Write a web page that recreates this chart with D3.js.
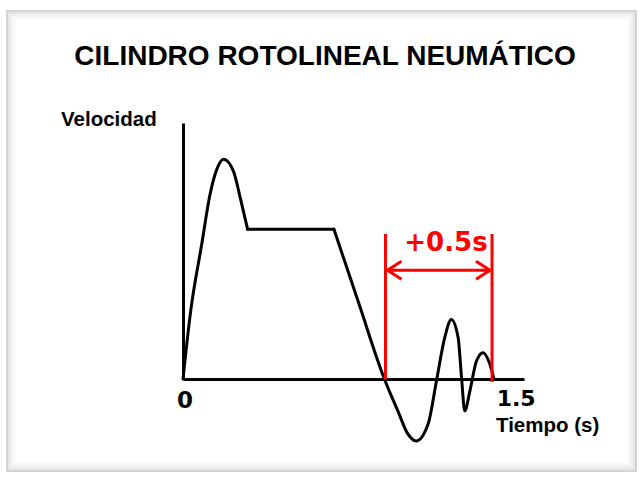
<!DOCTYPE html>
<html>
<head>
<meta charset="utf-8">
<script src="https://cdn.jsdelivr.net/npm/d3@7"></script>
<style>
  html, body { margin: 0; padding: 0; background: #ffffff; }
  svg { display: block; }
</style>
</head>
<body>
<svg id="chart" width="642" height="477"></svg>
<script>
// ---- data ----
const title = "CILINDRO ROTOLINEAL NEUMÁTICO";
const yLabel = "Velocidad";
const xLabel = "Tiempo (s)";
const tickLabels = ["0", "1.5"];
const tickValues = [0, 1.5];

// time (s) and velocity (relative)
const time = [0, 0.036, 0.088, 0.127, 0.159, 0.190, 0.237, 0.269, 0.303,
              0.708, 0.826, 0.945, 1.008, 1.055, 1.094, 1.150, 1.189, 1.228,
              1.259, 1.291, 1.307, 1.322, 1.346, 1.377, 1.408, 1.440, 1.459];
const velocity = [0, 0.309, 0.614, 0.841, 0.955, 1.0, 0.945, 0.823, 0.682,
                  0.682, 0.341, 0, -0.145, -0.25, -0.282, -0.205, -0.01, 0.188,
                  0.271, 0.188, 0.006, -0.145, -0.055, 0.082, 0.12, 0.067, 0];
// indices where the curve has sharp corners (segments between them)
const corners = [0, 8, 9, 26];
const straightSegments = [1]; // segment index drawn as straight line

// annotation: settling interval
const intervalStart = 0.95;
const intervalEnd = 1.45;
const intervalLabel = "+0.5s";
const intervalTop = 0.66;
const intervalArrowV = 0.495;

// ---- drawing ----
const svg = d3.select("#chart");

// frame with soft inner shadow
const frame = {x: 6, y: 10, w: 631, h: 462};
const shadowSteps = [
  {d: 0, c: "#d4d4d4", w: 2},
  {d: 2, c: "#e6e6e6", w: 2},
  {d: 4, c: "#efefef", w: 2},
  {d: 6, c: "#f5f5f5", w: 2},
  {d: 8, c: "#fafafa", w: 2}
];
svg.selectAll("rect.shadow").data(shadowSteps).enter().append("rect")
  .attr("class", "shadow")
  .attr("x", d => frame.x + d.d + 1)
  .attr("y", d => frame.y + d.d + 1)
  .attr("width", d => frame.w - 2 * d.d - 2)
  .attr("height", d => frame.h - 2 * d.d - 2)
  .attr("fill", "none")
  .attr("stroke", d => d.c)
  .attr("stroke-width", d => d.w);

const x = d3.scaleLinear().domain([0, 1.6]).range([183, 524]);
const y = d3.scaleLinear().domain([0, 1.165]).range([379, 123]);

// title
svg.append("text")
  .attr("x", 325).attr("y", 65)
  .attr("text-anchor", "middle")
  .attr("font-family", "Liberation Sans, Arial, sans-serif")
  .attr("font-weight", "bold")
  .attr("font-size", 28)
  .attr("fill", "#000")
  .text(title);

// axes
const xAxis = d3.axisBottom(x).tickValues([]).tickSizeOuter(0);
const yAxis = d3.axisLeft(y).tickValues([]).tickSizeOuter(0);
svg.append("g").attr("transform", `translate(0,${y(0)})`).call(xAxis)
  .select(".domain").attr("stroke", "#000").attr("stroke-width", 3);
svg.append("g").attr("transform", `translate(${x(0)},0)`).call(yAxis)
  .select(".domain").attr("stroke", "#000").attr("stroke-width", 3);

// axis labels
svg.append("text")
  .attr("x", 61).attr("y", 126)
  .attr("font-family", "Liberation Sans, Arial, sans-serif")
  .attr("font-weight", "bold").attr("font-size", 20.5)
  .text(yLabel);
svg.append("text")
  .attr("x", 496).attr("y", 432)
  .attr("font-family", "Liberation Sans, Arial, sans-serif")
  .attr("font-weight", "bold").attr("font-size", 20.5)
  .text(xLabel);

// tick labels
svg.append("text")
  .attr("x", x(tickValues[0]) + 2).attr("y", 408)
  .attr("text-anchor", "middle")
  .attr("font-family", "DejaVu Sans, sans-serif")
  .attr("font-weight", "bold").attr("font-size", 23)
  .text(tickLabels[0]);
svg.append("text")
  .attr("x", x(tickValues[1]) - 6).attr("y", 406)
  .attr("text-anchor", "start")
  .attr("font-family", "DejaVu Sans, sans-serif")
  .attr("font-weight", "bold").attr("font-size", 22)
  .text(tickLabels[1]);

// velocity curve
const pts = time.map((t, i) => [t, velocity[i]]);
for (let s = 0; s < corners.length - 1; s++) {
  const seg = pts.slice(corners[s], corners[s + 1] + 1);
  const line = d3.line()
    .x(d => x(d[0])).y(d => y(d[1]))
    .curve(straightSegments.includes(s) ? d3.curveLinear : d3.curveMonotoneX);
  svg.append("path")
    .attr("d", line(seg))
    .attr("fill", "none")
    .attr("stroke", "#000")
    .attr("stroke-width", 3)
    .attr("stroke-linejoin", "round")
    .attr("stroke-linecap", "round");
}

// red annotation
const red = "#ff0000";
const ann = svg.append("g").attr("stroke", red).attr("stroke-width", 3).attr("fill", "none");
ann.append("line")
  .attr("x1", x(intervalStart)).attr("x2", x(intervalStart))
  .attr("y1", y(intervalTop)).attr("y2", y(0));
ann.append("line")
  .attr("x1", x(intervalEnd)).attr("x2", x(intervalEnd))
  .attr("y1", y(intervalTop)).attr("y2", y(0) + 3);
const ay = y(intervalArrowV);
const xa = x(intervalStart) + 2, xb = x(intervalEnd) - 2;
ann.append("line").attr("x1", xa).attr("x2", xb).attr("y1", ay).attr("y2", ay);
ann.append("path").attr("d", `M${xa + 14},${ay - 9} L${xa},${ay} L${xa + 14},${ay + 9}`);
ann.append("path").attr("d", `M${xb - 14},${ay - 9} L${xb},${ay} L${xb - 14},${ay + 9}`);

svg.append("text")
  .attr("x", 446).attr("y", 251)
  .attr("text-anchor", "middle")
  .attr("font-family", "DejaVu Sans, sans-serif")
  .attr("font-weight", "bold").attr("font-size", 26)
  .attr("fill", red)
  .text(intervalLabel);
</script>
</body>
</html>
